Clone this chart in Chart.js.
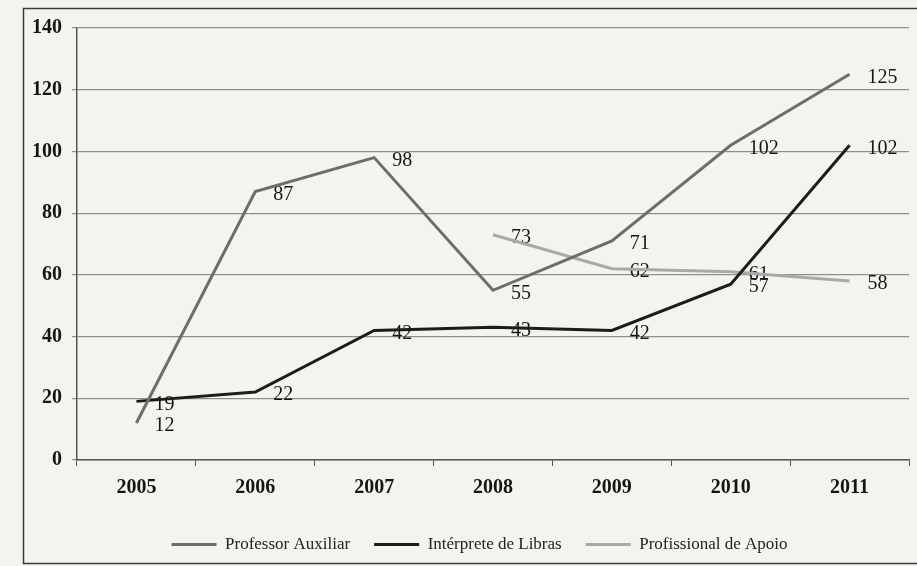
<!DOCTYPE html>
<html lang="pt">
<head>
<meta charset="utf-8">
<title>Profissionais de apoio à inclusão, 2005–2011</title>
<script src="https://cdn.jsdelivr.net/npm/chart.js@4.4.1/dist/chart.umd.min.js"></script>
<style>
  html, body { margin: 0; padding: 0; background: #f4f4ef; }
  #wrap { width: 917px; height: 566px; position: relative; }
</style>
</head>
<body>
<div id="wrap"><canvas id="chart"></canvas></div>
<script>
// Anos e séries
const anos = ['2005', '2006', '2007', '2008', '2009', '2010', '2011'];
const professorAuxiliar = [12, 87, 98, 55, 71, 102, 125];
const interpreteLibras = [19, 22, 42, 43, 42, 57, 102];
const profissionalApoio = [null, null, null, 73, 62, 61, 58];
const nomesSeries = ['Professor Auxiliar', 'Intérprete de Libras', 'Profissional de Apoio'];
const eixoY = { min: 0, max: 140, passo: 20 };

const SERIF = '"Liberation Serif", "Times New Roman", "DejaVu Serif", serif';

// Fundo e moldura em volta do gráfico
const moldura = {
  id: 'moldura',
  beforeDraw(chart) {
    const { ctx, width, height } = chart;
    ctx.save();
    ctx.fillStyle = '#f4f4ef';
    ctx.fillRect(0, 0, width, height);
    ctx.strokeStyle = '#3c3c3c';
    ctx.lineWidth = 1.5;
    ctx.strokeRect(23.5, 8.5, width + 20, height - 11);
    ctx.restore();
  }
};

// Desloca a legenda um pouco para a direita
const legendaDireita = {
  id: 'legendaDireita',
  afterLayout(chart) {
    if (chart.legend) chart.legend.left += 28;
  }
};

// Rótulos de valor à direita de cada ponto
const rotulos = {
  id: 'rotulos',
  beforeDatasetsDraw(chart) {
    const { ctx } = chart;
    ctx.save();
    ctx.font = '20px ' + SERIF;
    ctx.fillStyle = '#151515';
    ctx.textAlign = 'left';
    ctx.textBaseline = 'middle';
    chart.data.datasets.forEach((ds, i) => {
      const meta = chart.getDatasetMeta(i);
      meta.data.forEach((pt, j) => {
        const v = ds.data[j];
        if (v === null || v === undefined) return;
        ctx.fillText(String(v), pt.x + 18, pt.y + 3);
      });
    });
    ctx.restore();
  }
};

const serie = (label, data, cor) => ({
  label,
  data,
  borderColor: cor,
  backgroundColor: cor,
  borderWidth: 3,
  pointRadius: 0,
  pointHoverRadius: 0,
  tension: 0,
  spanGaps: false
});

new Chart(document.getElementById('chart'), {
  type: 'line',
  data: {
    labels: anos,
    datasets: [
      serie(nomesSeries[0], professorAuxiliar, '#6d6d6d'),
      serie(nomesSeries[1], interpreteLibras, '#1c1c1c'),
      serie(nomesSeries[2], profissionalApoio, '#a9a9a9')
    ]
  },
  options: {
    responsive: true,
    maintainAspectRatio: false,
    animation: false,
    events: [],
    layout: { padding: { left: 22, right: 8, top: 28, bottom: 3 } },
    scales: {
      x: {
        offset: true,
        afterFit(scale) { scale.height += 2; },
        grid: {
          offset: true,
          drawOnChartArea: false,
          drawTicks: true,
          tickLength: 6,
          color: '#555'
        },
        border: { display: true, color: '#555', width: 1.5 },
        ticks: {
          color: '#151515',
          font: { family: SERIF, size: 20, weight: 'bold' },
          padding: 10,
          maxRotation: 0
        }
      },
      y: {
        min: eixoY.min,
        max: eixoY.max,
        ticks: {
          stepSize: eixoY.passo,
          color: '#151515',
          font: { family: SERIF, size: 20, weight: 'bold' },
          padding: 10
        },
        grid: {
          color: '#8e8e8e',
          lineWidth: 1.2,
          drawTicks: true,
          tickLength: 5
        },
        border: { display: true, color: '#555', width: 1.5 }
      }
    },
    plugins: {
      legend: {
        position: 'bottom',
        labels: {
          usePointStyle: true,
          pointStyle: 'line',
          pointStyleWidth: 45,
          color: '#222',
          font: { family: SERIF, size: 17 },
          padding: 24
        }
      },
      tooltip: { enabled: false }
    }
  },
  plugins: [moldura, legendaDireita, rotulos]
});
</script>
</body>
</html>
